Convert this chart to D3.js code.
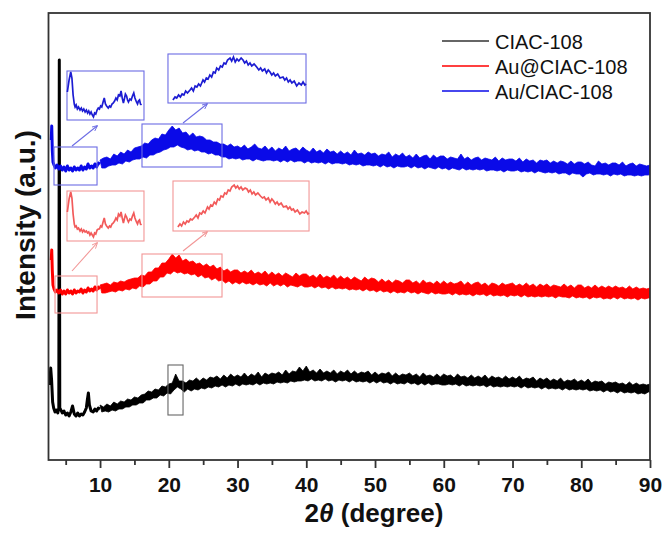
<!DOCTYPE html>
<html><head><meta charset="utf-8">
<script src="https://cdn.jsdelivr.net/npm/d3@7"></script>
<style>
body{margin:0;background:#fff}
svg{display:block}
text{font-family:"Liberation Sans",Arial,Helvetica,sans-serif;fill:#111}
</style>
</head><body>
<svg id="chart" width="669" height="535"></svg>
<script>
// ---------------- DATA ----------------
const seriesNames = ["CIAC-108", "Au@CIAC-108", "Au/CIAC-108"];
const xMajorTicks = [10, 20, 30, 40, 50, 60, 70, 80, 90];
const xMinorTicks = [5, 15, 25, 35, 45, 55, 65, 75, 85];

// low-angle part of each scan (2θ < 10°), read point by point
const blackLowX = [2.7,2.82,2.95,3.1,3.25,3.45,3.65,3.85,4.0,4.07,4.14,4.3,4.5,4.75,5.0,5.25,5.5,5.75,6.0,6.25,6.5,6.75,7.0,7.25,7.5,7.75,8.0,8.15,8.3,8.45,8.7,9.0,9.25,9.5,9.75,10.0];
const blackLowY = [75,92,80,58,52,48,50,47,52,400,52,50,47,49,45,47,44,48,54,46,44,47,44,46,45,48,52,60,67,55,49,48,51,49,52,51];
const lowAngleX = [2.9,2.97,3.05,3.15,3.3,3.5,3.75,4.0,4.25,4.5,4.75,5.0,5.25,5.5,5.75,6.0,6.25,6.5,6.75,7.0,7.25,7.5,7.75,8.0,8.25,8.5,8.75,9.0,9.25,9.5,9.75,10.0];
const redLowY  = [200,210,190,175,171,168,170,167,170,166,169,166,170,167,169,166,170,167,169,168,171,167,170,168,172,169,171,169,173,170,173,171];
const blueLowY = [320,334,310,298,295,292,295,291,294,290,293,289,294,290,292,289,293,290,292,290,294,290,293,291,296,292,294,292,296,293,297,296];

// 2θ = 10 ... 90: upper edge of each noisy trace read every 0.5°,
// lower edge read every 0.5° starting at 10.25°
const gridStart = 10, gridStep = 0.5, lowerOffset = 0.25;
const blackUpper = [
 55,53,56,54,58,56,59,58,61,60, 63,62,65,66,69,68,71,70,74,73,
 76,77,86,79,79,77,80,79,82,79, 82,80,83,82,84,81,85,82,86,83,
 85,83,87,83,86,84,88,83,87,85, 87,86,88,85,90,86,89,88,93,89,
 94,88,90,87,91,87,89,87,90,86, 89,87,90,86,89,86,88,87,89,85,
 88,85,87,86,88,84,87,84,86,85, 87,84,86,83,87,84,85,83,86,83,
 86,84,85,82,86,83,84,82,85,82, 84,82,85,81,84,82,83,81,84,81,
 83,81,84,80,82,81,83,79,82,80, 82,79,81,79,82,78,80,79,81,78,
 80,78,81,77,79,78,79,76,78,77, 78,76,77,75,78,75,77,75,76,75,
 76];
const blackLower = [
 48,49,48,50,49,51,51,53,53,55, 55,57,57,60,60,62,62,65,64,67,
 66,70,73,71,68,71,69,71,70,72, 71,73,72,74,73,75,73,75,74,76,
 74,76,75,76,75,77,75,77,76,77, 76,78,77,78,77,79,78,79,79,80,
 79,81,79,80,79,81,79,80,78,80, 79,80,78,80,78,79,78,79,77,79,
 77,79,77,78,76,78,76,77,76,78, 76,77,75,77,75,77,75,76,76,75,
 75,76,75,76,74,76,74,75,74,75, 74,75,73,75,73,74,73,74,73,74,
 73,74,72,74,72,73,72,73,71,73, 71,72,71,72,70,72,70,71,70,71,
 70,71,69,70,69,70,68,70,68,69, 67,69,67,68,67,68,66,67,66,68,
 68];
const redUpper = [
 175,176,177,175,178,177,179,178,180,181, 182,182,185,184,188,188,192,192,197,197,
 201,206,202,205,199,201,198,199,196,197, 194,196,193,195,191,193,189,191,188,190,
 190,187,189,187,190,186,188,186,189,185, 188,185,187,184,187,185,183,187,184,186,
 186,183,185,182,186,182,184,182,185,181, 184,181,183,180,183,181,179,183,180,182,
 181,178,181,178,180,177,180,179,177,180, 180,177,179,176,180,177,178,176,179,176,
 179,176,178,176,177,179,175,178,175,177, 178,175,177,174,177,176,174,177,175,176,
 177,174,176,174,177,174,176,173,176,174, 176,173,175,174,173,176,173,175,172,175,
 175,172,174,172,175,172,174,172,174,172, 174,172,173,171,174,171,173,171,172,171,
 172];
const redLower = [
 167,167,168,169,168,170,169,171,170,172, 171,174,173,176,176,179,179,183,183,187,
 186,189,187,188,186,187,185,186,183,185, 182,183,180,182,179,180,177,179,176,178,
 176,178,176,177,175,177,175,176,174,177, 174,176,174,176,173,175,174,173,175,173,
 173,174,172,174,172,173,171,173,171,172, 171,172,170,171,170,171,169,171,169,170,
 168,170,168,169,167,169,167,168,167,169, 167,168,166,168,167,166,168,166,167,166,
 166,167,165,167,165,166,165,166,164,166, 165,166,164,166,164,165,164,165,163,165,
 164,165,163,165,163,164,163,164,163,164, 163,164,162,164,163,163,162,164,162,163,
 162,163,161,163,162,163,161,162,161,163, 161,163,161,162,161,162,160,162,161,162,
 162];
const blueUpper = [
 300,302,303,301,306,304,308,306,310,308, 312,313,314,317,316,320,322,321,326,325,
 330,334,330,332,327,328,324,327,323,324, 323,320,320,318,318,316,316,314,316,313,
 314,312,315,311,313,316,312,311,314,310, 313,309,312,310,314,309,311,312,309,313,
 310,308,312,308,310,307,311,308,309,306, 309,306,308,305,310,306,307,305,308,306,
 307,304,306,305,308,303,306,304,307,303, 305,302,306,302,304,305,301,305,302,304,
 304,301,303,302,301,306,301,303,300,302, 303,300,302,301,300,303,299,302,300,301,
 301,299,302,298,301,299,300,297,300,299, 300,297,299,297,299,298,296,299,296,298,
 298,296,298,295,294,299,296,297,295,297, 297,295,298,294,296,297,294,296,295,294,
 295];
const blueLower = [
 292,292,294,295,295,297,296,299,298,300, 301,301,303,302,305,305,307,308,310,311,
 313,313,315,313,312,310,311,309,310,308, 308,306,307,305,305,303,303,301,302,301,
 302,300,301,301,299,301,300,299,300,300, 299,300,298,300,298,300,298,299,299,297,
 299,297,298,297,298,296,298,296,297,297, 296,297,295,296,295,296,294,295,295,294,
 295,293,295,293,294,292,294,293,293,294, 292,294,292,293,291,293,292,291,293,291,
 292,290,292,291,290,292,290,291,290,291, 290,291,289,290,290,289,290,288,290,289,
 289,290,288,289,288,289,287,289,288,287, 288,287,288,286,287,287,285,287,286,286,
 283,286,287,285,286,286,285,286,284,286, 285,286,284,285,285,284,285,284,285,285,
 286];

// magnified views (insets)
const insetSmallX = [3.23,3.38,3.52,3.62,3.72,3.82,3.89,3.98,4.08,4.18,4.31,4.42,4.52,4.63,4.74,4.85,4.95,5.05,5.15,5.25,5.35,5.45,5.55,5.65,5.76,5.86,5.96,6.06,6.16,6.27,6.37,6.47,6.57,6.71,6.82,6.92,7.03,7.14,7.25,7.36,7.47,7.58,7.7,7.8,7.9,8.0,8.08,8.17,8.27,8.35,8.43,8.55,8.66,8.77,8.88,8.98,9.11,9.2,9.28,9.37,9.45,9.54];
const blueInsetSmallY = [28,40,48,42,25,16,13,15,11,13,10,12,9,11,8,10,7,9,6,8,5,3,7,6,10,12,11,14,13,18,22,16,14,12,14,13,16,17,19,22,20,25,24,29,22,17,21,26,24,20,18,21,20,24,27,22,18,16,19,20,16,15];
const redInsetSmallY  = [29,42,49,43,27,17,14,15,12,13,10,12,9,11,9,10,8,9,6,8,6,4,8,7,11,12,12,15,14,19,23,17,15,13,15,14,17,18,20,23,21,27,25,29,23,18,22,26,24,21,19,22,21,25,28,23,19,17,20,21,17,16];
const insetLargeX = [16.52,16.7,16.84,17.0,17.15,17.3,17.45,17.6,17.75,17.97,18.1,18.25,18.4,18.55,18.7,18.85,19.07,19.2,19.35,19.5,19.65,19.8,19.95,20.1,20.23,20.4,20.55,20.7,20.85,21.0,21.15,21.36,21.5,21.65,21.8,21.95,22.1,22.3,22.46,22.6,22.75,22.9,23.05,23.2,23.4,23.62,23.8,23.95,24.1,24.3,24.45,24.6,24.75,24.9,25.05,25.2,25.4,25.6,25.85,26.0,26.15,26.3,26.45,26.6,26.8,27.01,27.2,27.4,27.55,27.7,27.8];
const blueInsetLargeY = [3,6,5,8,6,9,8,12,10,13,15,12,17,16,19,17,23,21,25,24,28,26,31,30,35,33,37,36,40,39,43,45,42,46,41,44,42,45,43,40,42,38,40,37,39,36,33,35,32,34,30,33,31,28,30,27,29,25,26,23,25,21,23,20,22,17,20,18,21,18,19];
const redInsetLargeY  = [4,7,5,9,7,10,9,12,11,14,16,13,18,17,20,18,24,22,26,25,29,27,32,31,35,34,38,37,41,40,44,46,43,45,42,44,41,43,42,39,41,37,39,36,38,35,33,34,31,33,29,32,30,27,29,26,28,24,25,22,24,21,22,19,21,17,19,18,20,17,18];

// ---------------- LAYOUT / STYLE ----------------
const plot = {left: 48.5, right: 650, top: 13, bottom: 460};
const colors = {black: "#000000", red: "#ff0000", blue: "#0a0ae8"};
const insetColors = {red: "#f25a5a", blue: "#1c1cd2"};
const boxColors = {red: "#f29696", blue: "#6c6ce4", black: "#666666"};

const svg = d3.select("#chart");
const x = d3.scaleLinear().domain([2.5, 90]).range([plot.left, plot.right]);
const y = d3.scaleLinear().domain([0, 447]).range([plot.bottom, plot.top]);

svg.append("defs").append("clipPath").attr("id", "plotclip").append("rect")
  .attr("x", plot.left).attr("y", plot.top)
  .attr("width", plot.right - plot.left).attr("height", plot.bottom - plot.top);

function bandPoints(up, lo) {
  const top = up.map((u, i) => [gridStart + i * gridStep, u]);
  const bottom = lo.map((l, i) => [gridStart + lowerOffset + i * gridStep, l]).reverse();
  return top.concat(bottom);
}
const series = [
  {name: seriesNames[0], color: colors.black, lx: blackLowX, ly: blackLowY, band: bandPoints(blackUpper, blackLower)},
  {name: seriesNames[1], color: colors.red, lx: lowAngleX, ly: redLowY, band: bandPoints(redUpper, redLower)},
  {name: seriesNames[2], color: colors.blue, lx: lowAngleX, ly: blueLowY, band: bandPoints(blueUpper, blueLower)}
];

const line = d3.line().x(d => x(d[0])).y(d => y(d[1]));
const gs = svg.append("g").attr("clip-path", "url(#plotclip)")
  .selectAll("g").data(series).join("g");
gs.append("path").attr("d", d => line(d.band) + "Z")
  .attr("fill", d => d.color).attr("stroke", d => d.color).attr("stroke-width", 0.8)
  .attr("stroke-linejoin", "miter");
gs.append("path").attr("d", d => line(d.lx.map((v, i) => [v, d.ly[i]])))
  .attr("fill", "none").attr("stroke", d => d.color).attr("stroke-width", 3)
  .attr("stroke-linejoin", "round");

// zoom source boxes (data units: 2θ from, 2θ to, intensity low, intensity high)
const sourceBoxes = [
  {c: "blue", b: [3.30, 9.56, 275, 313]},
  {c: "blue", b: [16.10, 27.74, 293, 336]},
  {c: "red", b: [3.45, 9.56, 147, 184]},
  {c: "red", b: [16.10, 27.74, 163, 206]},
  {c: "black", b: [19.88, 22.07, 45, 95]}
];
svg.append("g").selectAll("rect").data(sourceBoxes).join("rect")
  .attr("x", d => x(d.b[0])).attr("width", d => x(d.b[1]) - x(d.b[0]))
  .attr("y", d => y(d.b[3])).attr("height", d => y(d.b[2]) - y(d.b[3]))
  .attr("fill", "none").attr("stroke", d => boxColors[d.c]).attr("stroke-width", 1.1);

// insets
const insets = [
  {c: "blue", xs: insetSmallX, ys: blueInsetSmallY, dom: [3.2, 9.75], top: 49, b: [5.19, 16.39, 340, 389]},
  {c: "blue", xs: insetLargeX, ys: blueInsetLargeY, dom: [16.1, 27.8], top: 49, b: [19.88, 39.96, 357, 406]},
  {c: "red", xs: insetSmallX, ys: redInsetSmallY, dom: [3.2, 9.75], top: 50, b: [5.19, 16.39, 219, 269]},
  {c: "red", xs: insetLargeX, ys: redInsetLargeY, dom: [16.1, 27.8], top: 50, b: [20.61, 40.40, 229, 279]}
];
insets.forEach(ins => {
  const g = svg.append("g");
  g.append("rect")
    .attr("x", x(ins.b[0])).attr("width", x(ins.b[1]) - x(ins.b[0]))
    .attr("y", y(ins.b[3])).attr("height", y(ins.b[2]) - y(ins.b[3]))
    .attr("fill", "#fff").attr("stroke", boxColors[ins.c]).attr("stroke-width", 1.1);
  const xi = d3.scaleLinear().domain(ins.dom).range([x(ins.b[0]), x(ins.b[1])]);
  const yi = d3.scaleLinear().domain([0, ins.top]).range([y(ins.b[2]), y(ins.b[3])]);
  const l = d3.line().x((d, i) => xi(ins.xs[i])).y(d => yi(d));
  g.append("path").attr("d", l(ins.ys)).attr("fill", "none")
    .attr("stroke", insetColors[ins.c]).attr("stroke-width", 1.7);
});

// arrows
const defs = svg.append("defs");
["red", "blue"].forEach(c => {
  defs.append("marker").attr("id", "arr-" + c).attr("viewBox", "0 0 8 8")
    .attr("refX", 7).attr("refY", 4).attr("markerWidth", 6).attr("markerHeight", 6)
    .attr("orient", "auto").attr("markerUnits", "userSpaceOnUse")
    .append("path").attr("d", "M0,0.5 L8,4 L0,7.5").attr("fill", "none")
    .attr("stroke", boxColors[c]).attr("stroke-width", 1.2);
});
const arrows = [
  {c: "blue", a: [5.92, 314, 9.56, 334]},
  {c: "blue", a: [22.07, 337, 25.56, 356]},
  {c: "red", a: [5.92, 189, 9.56, 217]},
  {c: "red", a: [22.07, 209, 25.56, 228]}
];
svg.append("g").selectAll("line").data(arrows).join("line")
  .attr("x1", d => x(d.a[0])).attr("y1", d => y(d.a[1]))
  .attr("x2", d => x(d.a[2])).attr("y2", d => y(d.a[3]))
  .attr("stroke", d => boxColors[d.c]).attr("stroke-width", 1.1)
  .attr("marker-end", d => "url(#arr-" + d.c + ")");

// frame
svg.append("rect").attr("x", plot.left).attr("y", plot.top)
  .attr("width", plot.right - plot.left).attr("height", plot.bottom - plot.top)
  .attr("fill", "none").attr("stroke", "#333").attr("stroke-width", 1.8);

// x axis
const gx = svg.append("g").attr("transform", `translate(0,${plot.bottom})`)
  .call(d3.axisBottom(x).tickValues(xMajorTicks).tickSize(8).tickFormat(d3.format("d")));
gx.select(".domain").remove();
gx.selectAll(".tick line").attr("stroke", "#333").attr("stroke-width", 1.8);
gx.selectAll(".tick text").attr("y", 32).attr("dy", 0)
  .style("font-size", "21px").style("font-weight", "bold").style("fill", "#111")
  .style("font-family", '"Liberation Sans",Arial,sans-serif');
const gxm = svg.append("g").attr("transform", `translate(0,${plot.bottom})`)
  .call(d3.axisBottom(x).tickValues(xMinorTicks).tickSize(5).tickFormat(""));
gxm.select(".domain").remove();
gxm.selectAll(".tick line").attr("stroke", "#333").attr("stroke-width", 1.8);

// axis titles
const xt = svg.append("text").attr("x", 374).attr("y", 522).attr("text-anchor", "middle")
  .style("font-size", "26px").style("font-weight", "bold");
xt.append("tspan").text("2");
xt.append("tspan").style("font-style", "italic").text("θ");
xt.append("tspan").text(" (degree)");

svg.append("text").attr("transform", "translate(35,225) rotate(-90)")
  .attr("text-anchor", "middle").style("font-size", "28px").style("font-weight", "bold")
  .text("Intensity (a.u.)");

// legend
const legend = svg.append("g").attr("transform", "translate(442,41)");
const li = legend.selectAll("g").data(series).join("g")
  .attr("transform", (d, i) => `translate(0,${i * 25})`);
li.append("line").attr("x1", 0).attr("x2", 47).attr("y1", 0).attr("y2", 0)
  .attr("stroke", d => d.color === colors.black ? "#333" : d.color).attr("stroke-width", 1.5);
li.append("text").attr("x", 53).attr("y", 7.5).style("font-size", "20px").text(d => d.name);
</script>
</body></html>
